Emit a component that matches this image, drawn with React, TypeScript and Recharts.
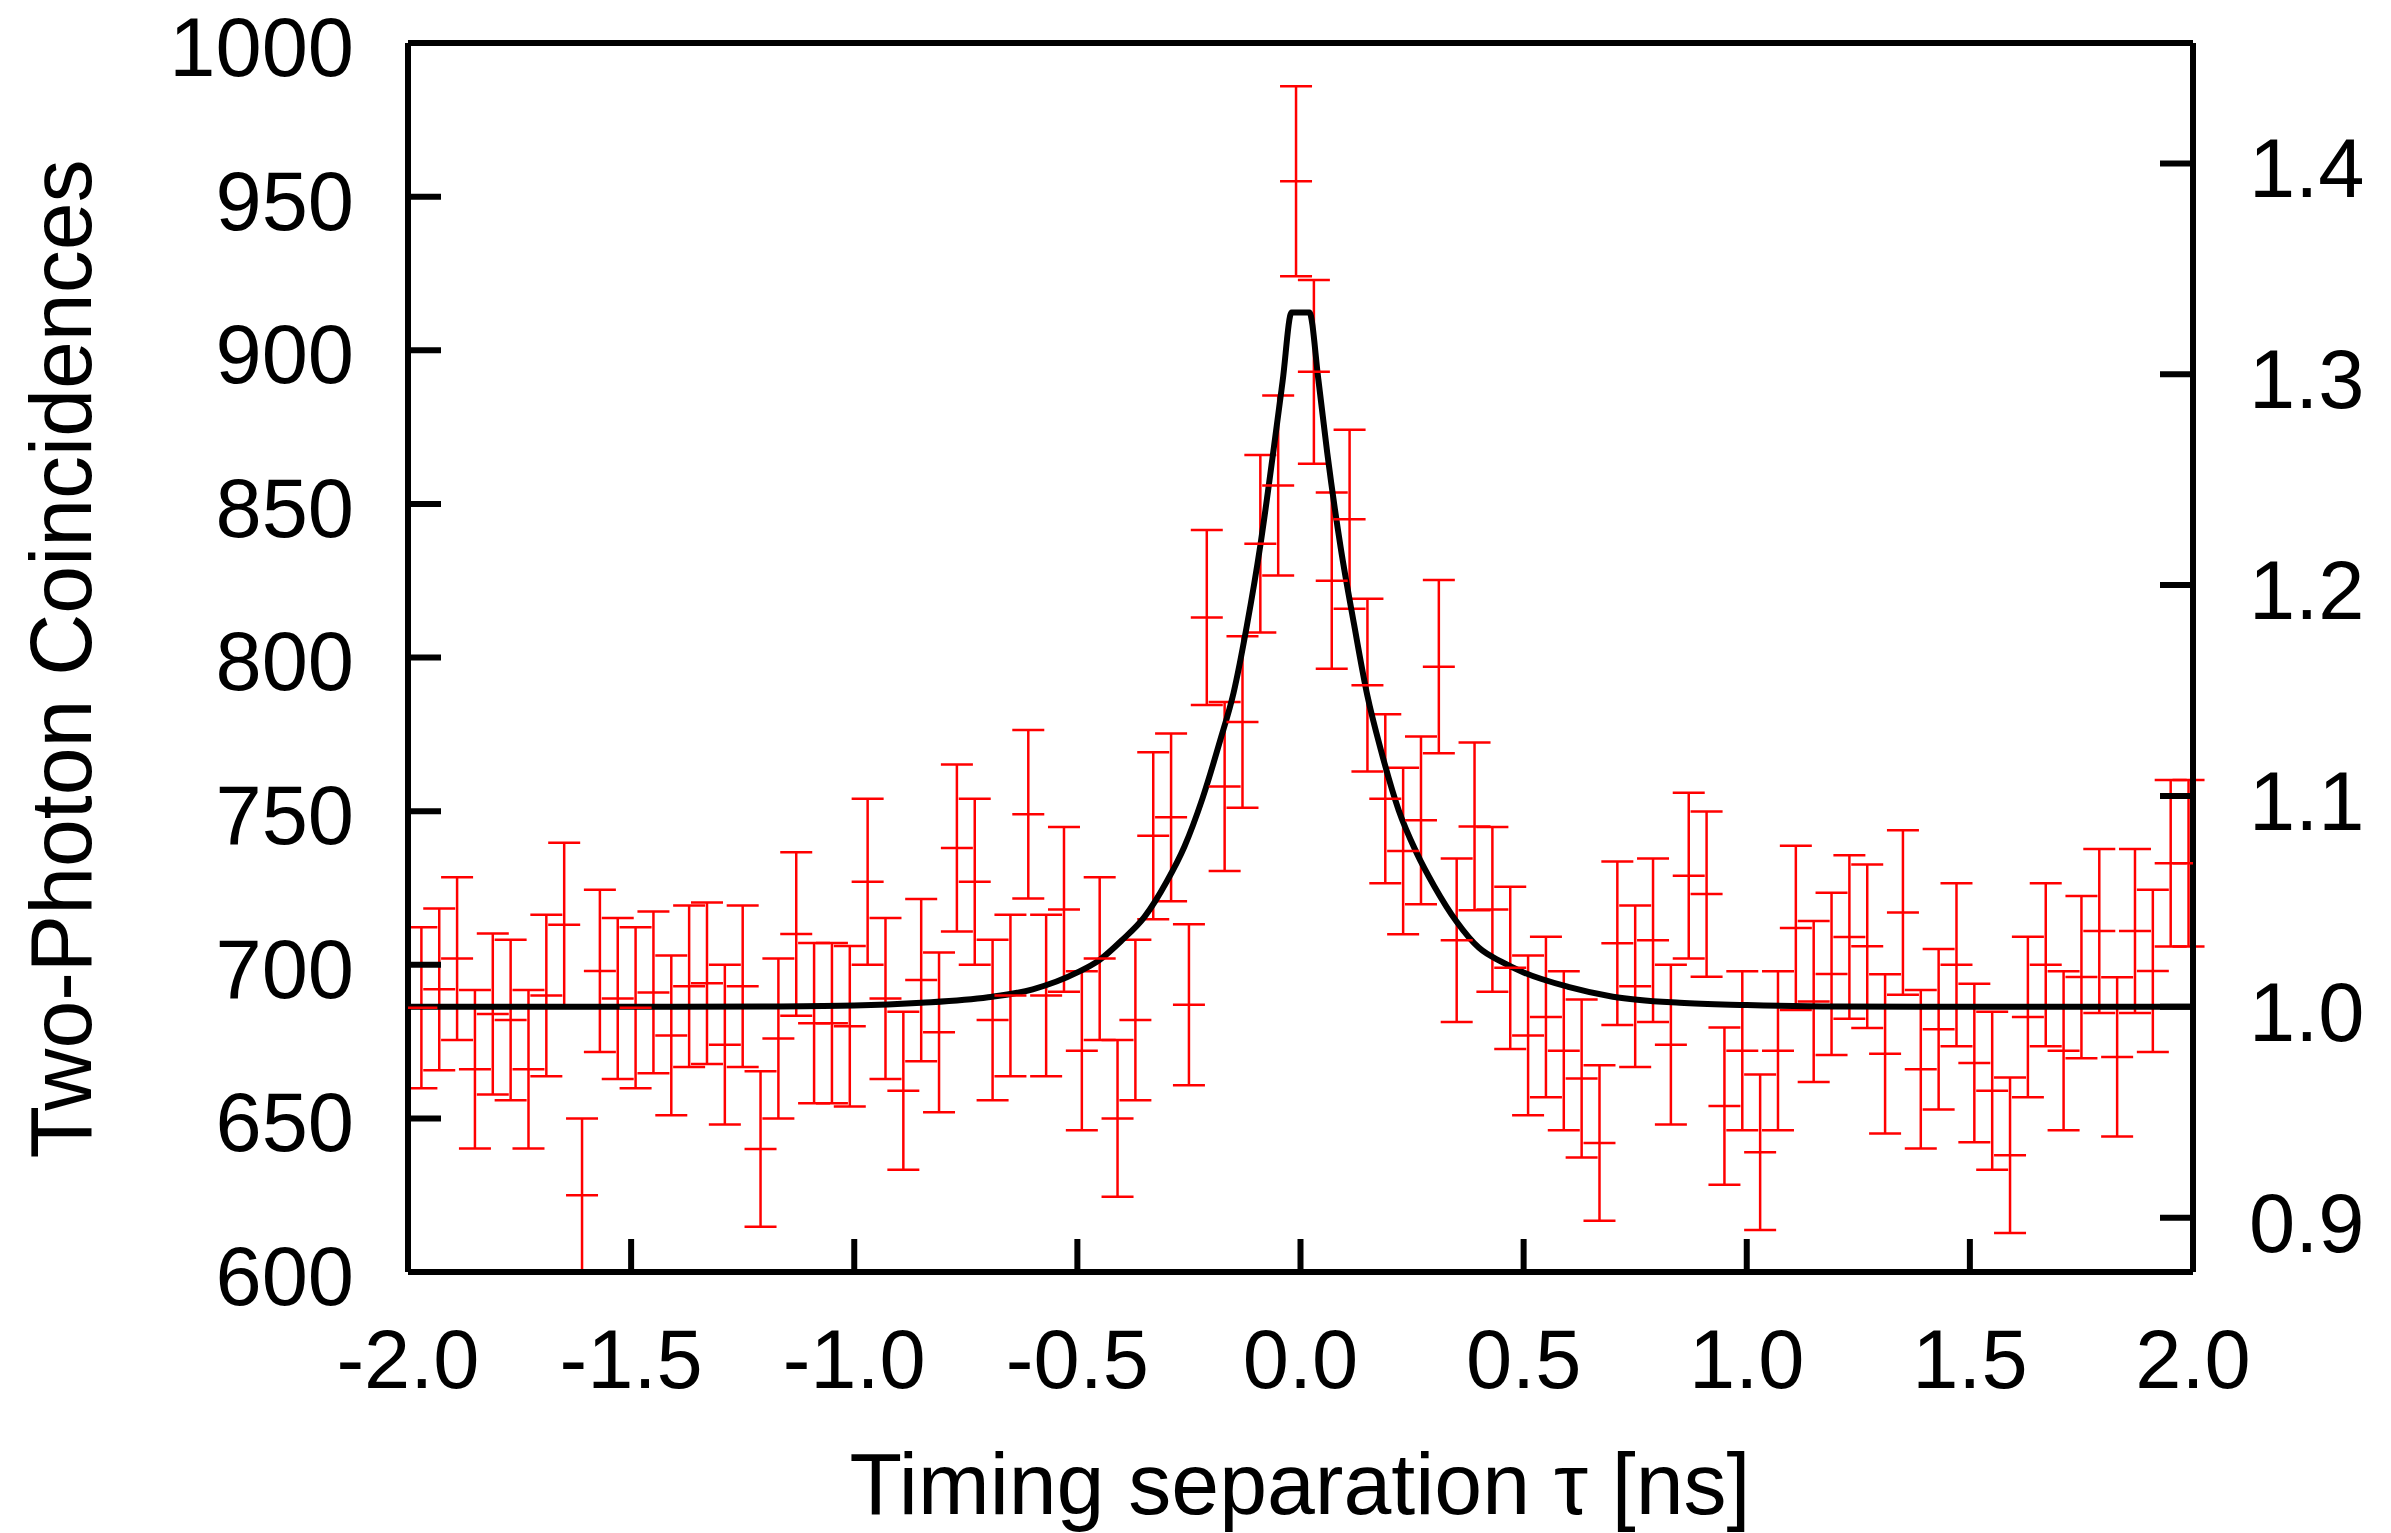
import {
  ComposedChart,
  Scatter,
  Line,
  XAxis,
  YAxis,
  ErrorBar,
  ReferenceLine,
} from 'recharts'

// Look of the original plot: red histogram with Poisson bars, black fit
const FONT = '"Liberation Sans", Arial, Helvetica, sans-serif'
const RED = '#ff0000'
const INK = '#000000'
const TICK_LEN = 33
const AXIS_W = 6

// counts level that corresponds to a normalized value of 1.0 (right axis)
const BASELINE = 686.3

// bin centres, ns
const times = [
  -1.97, -1.93, -1.89, -1.85, -1.81, -1.77, -1.73, -1.69, -1.65, -1.61,
  -1.57, -1.53, -1.49, -1.45, -1.41, -1.37, -1.33, -1.29, -1.25, -1.21,
  -1.17, -1.13, -1.09, -1.05, -1.01, -0.97, -0.93, -0.89, -0.85, -0.81,
  -0.77, -0.73, -0.69, -0.65, -0.61, -0.57, -0.53, -0.49, -0.45, -0.41,
  -0.37, -0.33, -0.29, -0.25, -0.21, -0.17, -0.13, -0.09, -0.05, -0.01,
  0.03, 0.07, 0.11, 0.15, 0.19, 0.23, 0.27, 0.31, 0.35, 0.39,
  0.43, 0.47, 0.51, 0.55, 0.59, 0.63, 0.67, 0.71, 0.75, 0.79,
  0.83, 0.87, 0.91, 0.95, 0.99, 1.03, 1.07, 1.11, 1.15, 1.19,
  1.23, 1.27, 1.31, 1.35, 1.39, 1.43, 1.47, 1.51, 1.55, 1.59,
  1.63, 1.67, 1.71, 1.75, 1.79, 1.83, 1.87, 1.91, 1.95, 1.99,
]

// two-photon coincidences per bin
const counts = [
  686, 692, 702, 666, 684, 682, 666, 690, 713, 625,
  698, 689, 686, 691, 677, 693, 694, 674, 693, 640,
  676, 710, 681, 681, 680, 727, 689, 659, 695, 678,
  738, 727, 682, 690, 749, 690, 718, 672, 702, 650,
  682, 742, 748, 687, 813, 758, 779, 837, 856, 955,
  893, 825, 845, 791, 754, 737, 747, 797, 708, 745,
  718, 699, 677, 683, 672, 663, 642, 707, 693, 708,
  674, 729, 723, 654, 672, 639, 672, 712, 688, 697,
  709, 706, 671, 717, 666, 679, 700, 668, 659, 638,
  683, 700, 672, 696, 711, 670, 711, 698, 733, 733,
]

// +/- error per bin
const errors = [
  26.2, 26.3, 26.5, 25.8, 26.2, 26.1, 25.8, 26.3, 26.7, 25.0,
  26.4, 26.2, 26.2, 26.3, 26.0, 26.3, 26.3, 26.0, 26.3, 25.3,
  26.0, 26.6, 26.1, 26.1, 26.1, 27.0, 26.2, 25.7, 26.4, 26.0,
  27.2, 27.0, 26.1, 26.3, 27.4, 26.3, 26.8, 25.9, 26.5, 25.5,
  26.1, 27.2, 27.3, 26.2, 28.5, 27.5, 27.9, 28.9, 29.3, 30.9,
  29.9, 28.7, 29.1, 28.1, 27.5, 27.1, 27.3, 28.2, 26.6, 27.3,
  26.8, 26.4, 26.0, 26.1, 25.9, 25.7, 25.3, 26.6, 26.3, 26.6,
  26.0, 27.0, 26.9, 25.6, 25.9, 25.3, 25.9, 26.7, 26.2, 26.4,
  26.6, 26.6, 25.9, 26.8, 25.8, 26.1, 26.5, 25.8, 25.7, 25.3,
  26.1, 26.5, 25.9, 26.4, 26.7, 25.9, 26.7, 26.4, 27.1, 27.1,
]

// fit curve
const fitTimes = [
  -2.0, -1.4, -1.2, -1.0, -0.85, -0.7, -0.6, -0.5, -0.45, -0.4,
  -0.35, -0.3, -0.26, -0.22, -0.18, -0.15, -0.12, -0.09, -0.06, -0.04,
  -0.02, 0.02, 0.04, 0.06, 0.09, 0.12, 0.15, 0.18, 0.22, 0.26,
  0.3, 0.35, 0.4, 0.45, 0.5, 0.6, 0.7, 0.85, 1.0, 1.2, 1.4, 2.0,
]
const fitCounts = [
  686.3, 686.3, 686.4, 686.7, 687.6, 689.4, 692.0, 697.5, 701.6, 708.0,
  715.5, 727.0, 738.5, 754.0, 773.0, 788.5, 810.5, 836.5, 868.0, 890.0,
  912.3, 912.3, 890.5, 866.5, 835.8, 810.8, 787.5, 770.0, 750.3, 736.5,
  725.5, 714.0, 705.5, 701.0, 697.5, 692.8, 689.6, 687.6, 686.9, 686.4, 686.3, 686.3,
]

const xTicks = [-2, -1.5, -1, -0.5, 0, 0.5, 1, 1.5, 2]
const yTicks = [600, 650, 700, 750, 800, 850, 900, 950, 1000]
const ratioTicks = [0.9, 1.0, 1.1, 1.2, 1.3, 1.4]

const points = times.map((t, i) => ({ t, count: counts[i], err: errors[i] }))
const fit = fitTimes.map((t, i) => ({ t, count: fitCounts[i] }))

const tickText = { fontSize: 83, fontFamily: FONT, fill: INK }
const axisLine = { stroke: INK, strokeWidth: AXIS_W }

const LeftTick = ({ x, y, payload }: any) => (
  <g>
    <line x1={x} y1={y} x2={x + TICK_LEN} y2={y} stroke={INK} strokeWidth={AXIS_W} />
    <text x={x - 54} y={y + 3} dy="0.36em" textAnchor="end" {...tickText}>
      {payload.value}
    </text>
  </g>
)

const RightTick = ({ x, y, payload }: any) => (
  <g>
    <line x1={x - TICK_LEN} y1={y} x2={x} y2={y} stroke={INK} strokeWidth={AXIS_W} />
    <text x={x + 56} y={y + 4} dy="0.36em" textAnchor="start" {...tickText}>
      {Number(payload.value).toFixed(1)}
    </text>
  </g>
)

const BottomTick = ({ x, y, payload }: any) => (
  <g>
    <line x1={x} y1={y - TICK_LEN} x2={x} y2={y} stroke={INK} strokeWidth={AXIS_W} />
    <text x={x} y={y + 116} textAnchor="middle" {...tickText}>
      {Number(payload.value).toFixed(1)}
    </text>
  </g>
)

// the little horizontal mark at each bin value
const CenterMark = ({ cx, cy }: any) => (
  <line x1={cx - 16} y1={cy} x2={cx + 16} y2={cy} stroke={RED} strokeWidth={2.5} />
)

export default function App() {
  return (
    <div style={{ position: 'absolute', left: 0, top: 0, background: '#fff' }}>
      <ComposedChart width={2391} height={1533} margin={{ top: 43, right: 0, bottom: 0, left: 0 }}>
        <XAxis
          dataKey="t"
          type="number"
          domain={[-2, 2]}
          ticks={xTicks}
          interval={0}
          allowDataOverflow
          height={261}
          tickSize={0}
          tickMargin={0}
          tickLine={false}
          stroke={INK}
          strokeWidth={AXIS_W}
          axisLine={axisLine}
          tick={<BottomTick />}
          label={() => (
            <text
              x={1300}
              y={1514}
              textAnchor="middle"
              fontSize={88}
              fontFamily={FONT}
              fill={INK}
              textLength={901}
              lengthAdjust="spacingAndGlyphs"
            >
              Timing separation τ [ns]
            </text>
          )}
        />
        <YAxis
          yAxisId="left"
          type="number"
          domain={[600, 1000]}
          ticks={yTicks}
          interval={0}
          allowDataOverflow
          width={408}
          tickSize={0}
          tickMargin={0}
          tickLine={false}
          stroke={INK}
          strokeWidth={AXIS_W}
          axisLine={axisLine}
          tick={<LeftTick />}
          label={() => (
            <text
              x={59}
              y={659}
              transform="rotate(-90, 59, 659)"
              dy="0.36em"
              textAnchor="middle"
              fontSize={88}
              fontFamily={FONT}
              fill={INK}
              textLength={999}
              lengthAdjust="spacingAndGlyphs"
            >
              Two-Photon Coincidences
            </text>
          )}
        />
        <YAxis
          yAxisId="right"
          orientation="right"
          type="number"
          domain={[600 / BASELINE, 1000 / BASELINE]}
          ticks={ratioTicks}
          interval={0}
          allowDataOverflow
          width={198}
          tickSize={0}
          tickMargin={0}
          tickLine={false}
          stroke={INK}
          strokeWidth={AXIS_W}
          axisLine={axisLine}
          tick={<RightTick />}
        />
        <ReferenceLine yAxisId="left" y={1000} stroke={INK} strokeWidth={AXIS_W} ifOverflow="visible" />
        <Scatter
          yAxisId="left"
          data={points}
          dataKey="count"
          shape={<CenterMark />}
          isAnimationActive={false}
        >
          <ErrorBar
            dataKey="err"
            direction="y"
            width={16}
            stroke={RED}
            strokeWidth={2.5}
            isAnimationActive={false}
          />
        </Scatter>
        <Line
          yAxisId="left"
          data={fit}
          dataKey="count"
          type="monotone"
          stroke={INK}
          strokeWidth={6}
          dot={false}
          activeDot={false}
          isAnimationActive={false}
        />
      </ComposedChart>
    </div>
  )
}
